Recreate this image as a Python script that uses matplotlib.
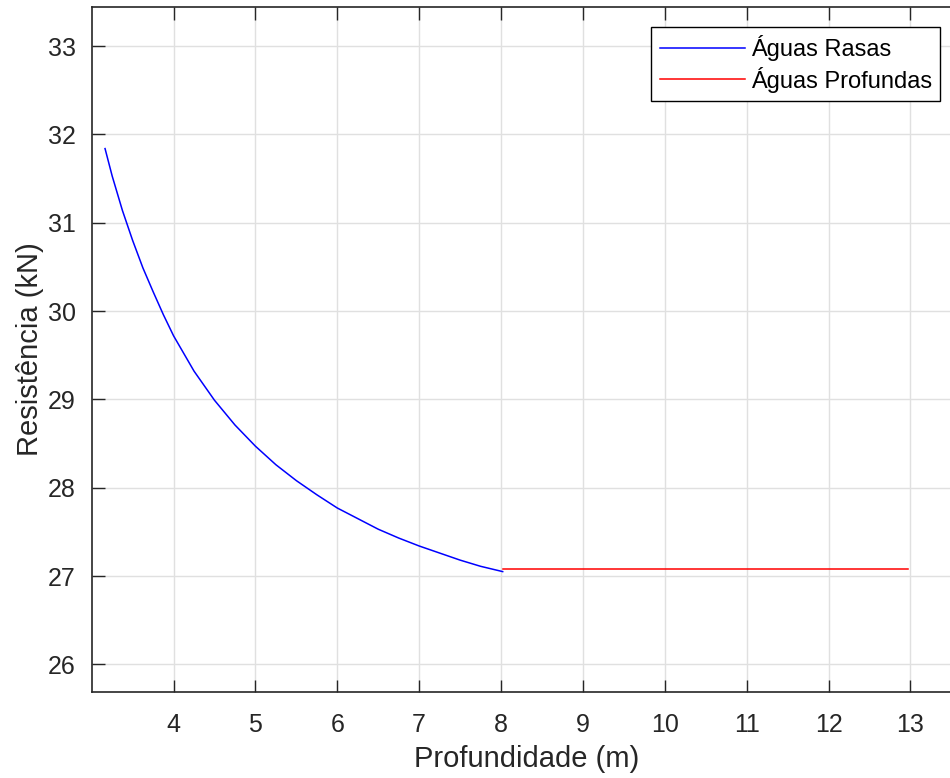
import numpy as np
import matplotlib.pyplot as plt

plt.rcParams['font.family'] = ['Liberation Sans', 'DejaVu Sans']

# Resistência em águas rasas (lida ponto a ponto)
prof_rasa = [3.163, 3.25, 3.375, 3.5, 3.625, 3.75, 3.875, 4.0, 4.25, 4.5, 4.75, 5.0,
             5.25, 5.5, 5.75, 6.0, 6.25, 6.5, 6.75, 7.0, 7.25, 7.5, 7.75, 8.02]
res_rasa = [31.84, 31.53, 31.14, 30.80, 30.49, 30.22, 29.96, 29.72, 29.32, 28.99, 28.71, 28.47,
            28.26, 28.08, 27.92, 27.77, 27.65, 27.53, 27.43, 27.34, 27.26, 27.18, 27.11, 27.05]

# Águas profundas: resistência constante
prof_funda = [8.03, 12.97]
res_funda = [27.075, 27.075]

xticks = [4, 5, 6, 7, 8, 9, 10, 11, 12, 13]
yticks = [26, 27, 28, 29, 30, 31, 32, 33]

cinza = (0.15, 0.15, 0.15)

fig = plt.figure(figsize=(9.5, 7.78), dpi=100)
ax_l, ax_r, ax_t, ax_b = 91.7, 962.0, 7.3, 691.7
ax = fig.add_axes([ax_l/950, (778-ax_b)/778, (ax_r-ax_l)/950, (ax_b-ax_t)/778])

ax.plot(prof_rasa, res_rasa, color='b', lw=1.1, label='Águas Rasas')
ax.plot(prof_funda, res_funda, color='r', lw=1.1, label='Águas Profundas')

ax.set_xlim(3.0, 13 + (ax_r - 910.3)/82)
ax.set_ylim(25.69, 33.44)
ax.set_xticks(xticks)
ax.set_yticks(yticks)
ax.grid(True, color=(0.88, 0.88, 0.88), lw=1)
ax.set_axisbelow(True)

ax.tick_params(direction='in', length=9, width=1, colors=cinza, labelsize=18,
               top=True, right=True)
ax.tick_params(axis='x', pad=15)
ax.tick_params(axis='y', pad=11.5)
for s in ax.spines.values():
    s.set_color(cinza)
    s.set_linewidth(1.2)

ax.set_xlabel('Profundidade (m)', fontsize=21, color=cinza, labelpad=6)
ax.set_ylabel('Resistência (kN)', fontsize=21, color=cinza, labelpad=3)

# canto superior direito da legenda em pixels (940, 27.7)
leg = ax.legend(loc='upper right',
                bbox_to_anchor=((940 - ax_l)/(ax_r - ax_l), 1 - (26.5 - ax_t)/(ax_b - ax_t)),
                bbox_transform=ax.transAxes, fontsize=17, fancybox=False,
                edgecolor='k', framealpha=1, handlelength=3.6, handletextpad=0.25,
                borderpad=0.35, labelspacing=0.25, borderaxespad=0)
leg.get_frame().set_linewidth(1)

fig.savefig('out.png', dpi=100)
